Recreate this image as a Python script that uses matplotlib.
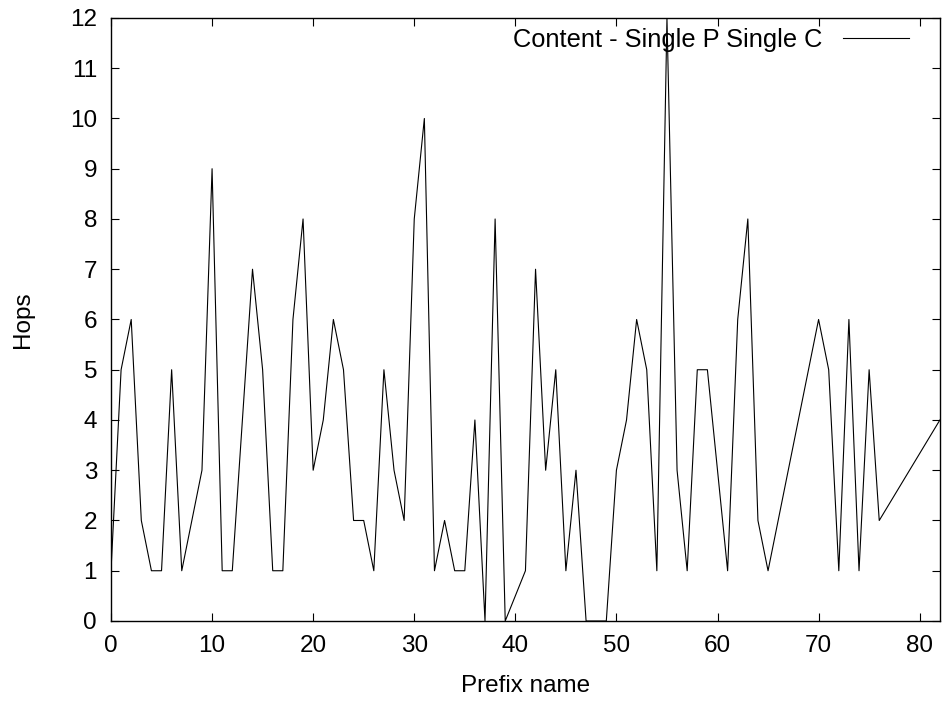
import matplotlib
matplotlib.use("Agg")
import matplotlib.pyplot as plt

plt.rcParams['font.family'] = ['Liberation Sans', 'DejaVu Sans']

# prefix index and hop count for each prefix
prefix = [0, 1, 2, 3, 4, 5, 6, 7, 9, 10, 11, 12, 14, 15, 16, 17, 18, 19,
          20, 21, 22, 23, 24, 25, 26, 27, 28, 29, 30, 31, 32, 33, 34, 35,
          36, 37, 38, 39, 41, 42, 43, 44, 45, 46, 47, 49, 50, 51, 52, 53,
          54, 55, 56, 57, 58, 59, 61, 62, 63, 64, 65, 70, 71, 72, 73, 74,
          75, 76, 82]
hops = [1, 5, 6, 2, 1, 1, 5, 1, 3, 9, 1, 1, 7, 5, 1, 1, 6, 8,
        3, 4, 6, 5, 2, 2, 1, 5, 3, 2, 8, 10, 1, 2, 1, 1,
        4, 0, 8, 0, 1, 7, 3, 5, 1, 3, 0, 0, 3, 4, 6, 5,
        1, 12, 3, 1, 5, 5, 1, 6, 8, 2, 1, 6, 5, 1, 6, 1,
        5, 2, 4]
series_name = "Content - Single P Single C"

fs = 17.5

fig = plt.figure(figsize=(9.43, 7.02), dpi=100)
ax = fig.add_axes([0.1177, 0.1154, 0.879, 0.859])

ax.plot(prefix, hops, color='black', linewidth=0.8, label=series_name)

ax.set_xlim(0, 82)
ax.set_ylim(0, 12)
ax.set_xticks(range(0, 81, 10))
ax.set_yticks(range(0, 13))
ax.tick_params(direction='in', length=6, width=0.8, top=True, right=True,
               labelsize=fs, pad=10)
for s in ax.spines.values():
    s.set_linewidth(1.0)

ax.set_xlabel("Prefix name", fontsize=fs, labelpad=13)
ax.set_ylabel("Hops", fontsize=fs, labelpad=26)

ax.legend(loc='upper right', bbox_to_anchor=(0.9626, 0.984), frameon=False,
          markerfirst=False, fontsize=18.3, handlelength=2.6,
          handletextpad=0.8, borderaxespad=0, borderpad=0)

fig.savefig("out.png", dpi=100)
